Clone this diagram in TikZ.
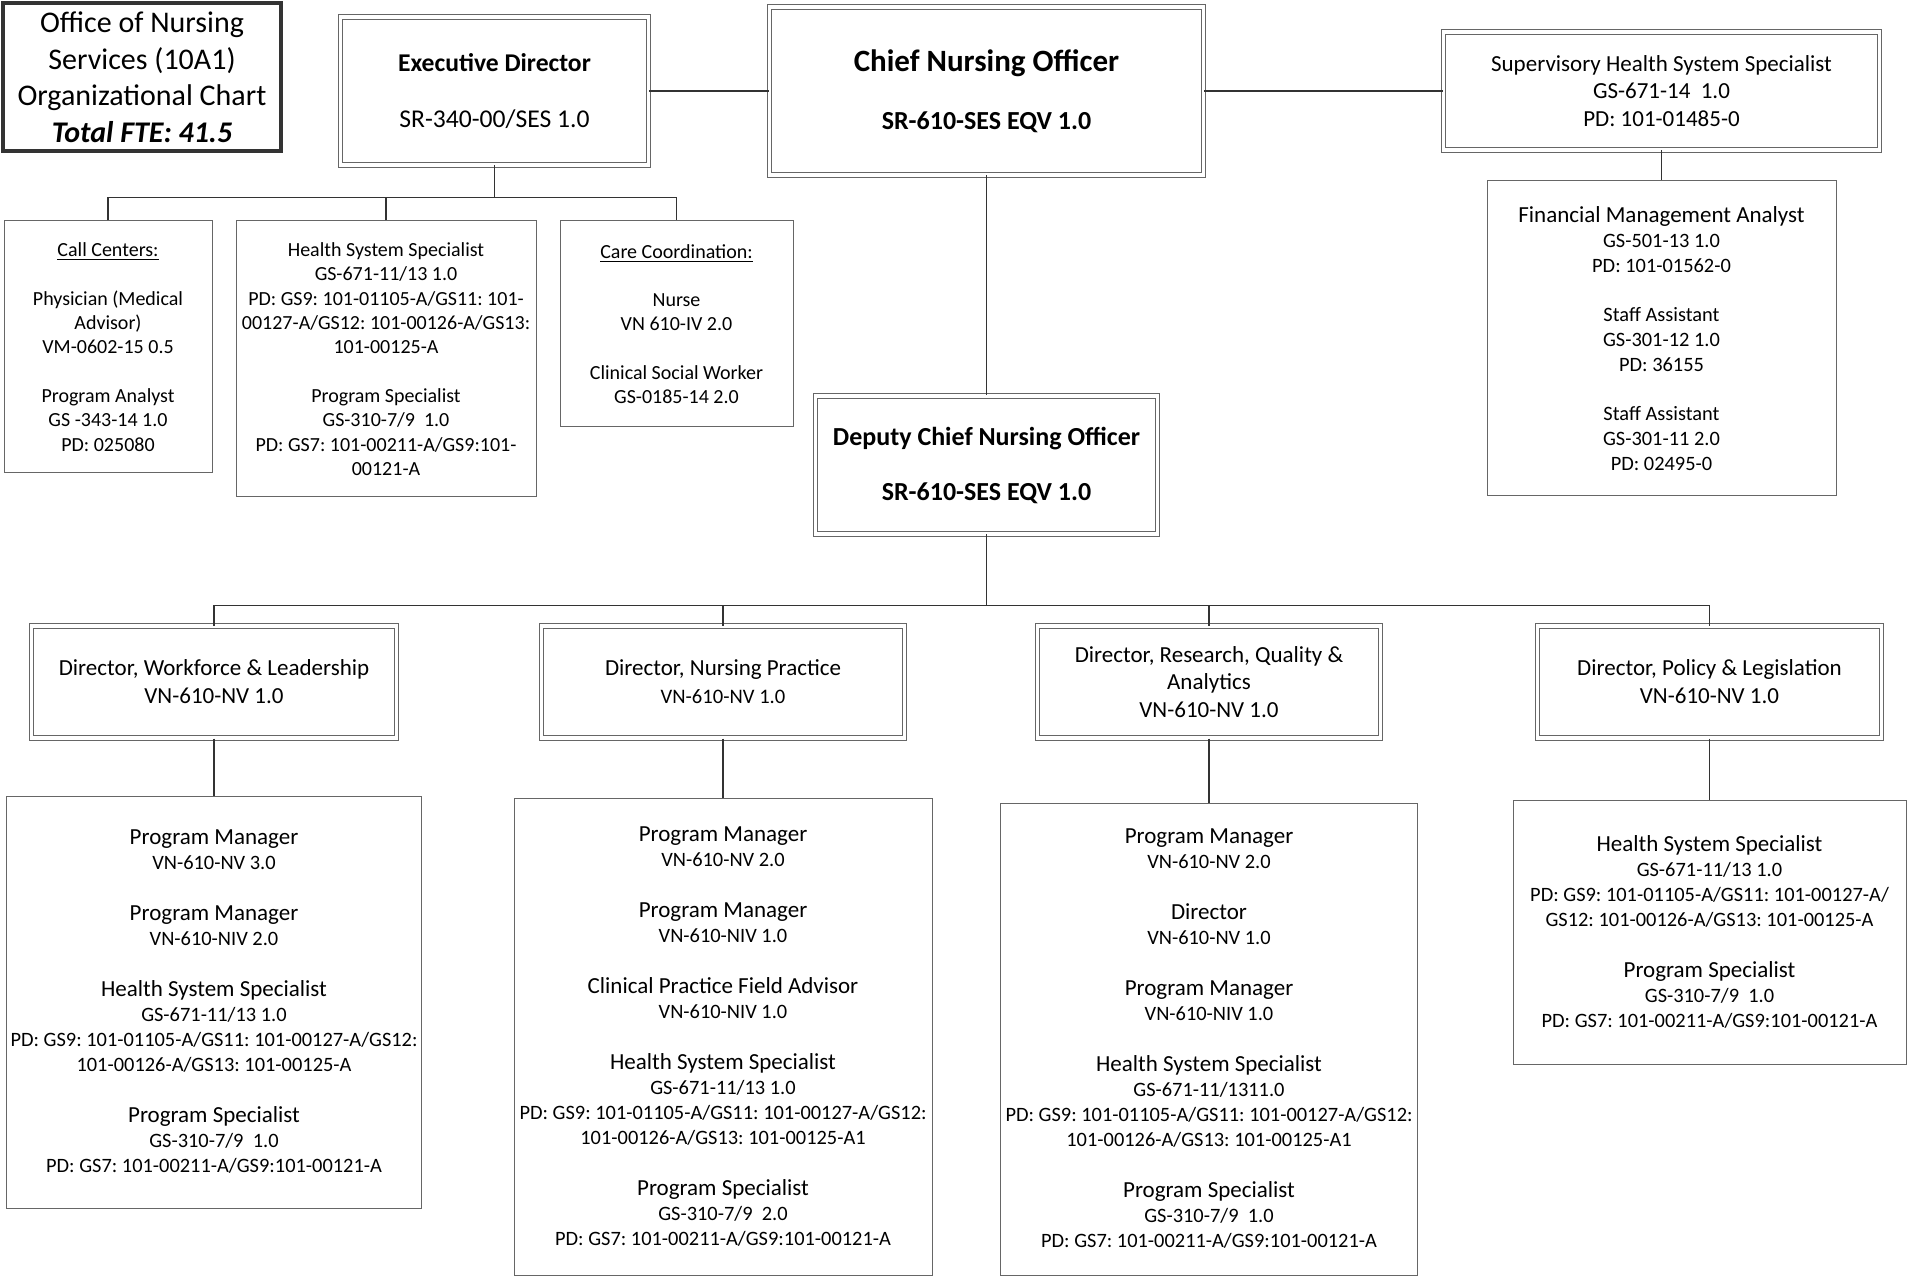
\documentclass[tikz,border=0pt]{standalone}
\usepackage{fontspec}
\setmainfont{Carlito}
\usetikzlibrary{positioning}
\frenchspacing

\newcommand{\roletitle}[1]{{\fontsize{11.5}{12.5}\selectfont #1}}

\begin{document}
\begin{tikzpicture}[
    box/.style={draw=black!60, line width=0.5pt, align=center, inner sep=1pt, font=\fontsize{10.2}{12.5}\selectfont},
    dbox/.style={box, double, double distance=1.8pt},
    small/.style={font=\fontsize{10}{12.2}\selectfont},
    link/.style={draw=black!80, line width=0.6pt}
]
\useasboundingbox (0,0) rectangle (953.5pt,-639pt);

% top row
\node[box, draw=black!80, line width=1.6pt, minimum width=139pt, minimum height=74pt, font=\fontsize{15}{18.25}\selectfont] (title) at (71pt,-38.5pt) {Office of Nursing\\Services (10A1)\\Organizational Chart\\\textbf{\textit{Total FTE: 41.5}}};
\node[dbox, minimum width=154pt, minimum height=74pt, font=\fontsize{12.8}{14}\selectfont] (ed) at (247.25pt,-45.5pt) {\textbf{Executive Director}\\[14pt]SR-340-00/SES 1.0};
\node[dbox, right=60pt of ed, minimum width=217pt, minimum height=84pt, font=\bfseries\fontsize{13}{14}\selectfont] (cno) {{\fontsize{15.5}{16}\selectfont Chief Nursing Officer}\\[15pt]SR-610-SES EQV 1.0};
\node[dbox, right=119.5pt of cno, minimum width=218pt, minimum height=59pt, font=\fontsize{11.5}{13.7}\selectfont] (sup) {Supervisory Health System Specialist\\GS-671-14~~1.0\\PD: 101-01485-0};
\node[box, below=15pt of sup, minimum width=174.5pt, minimum height=157.5pt] (fma) {\roletitle{Financial Management Analyst}\\GS-501-13 1.0\\PD: 101-01562-0\\[12pt]Staff Assistant\\GS-301-12 1.0\\PD: 36155\\[12pt]Staff Assistant\\GS-301-11 2.0\\PD: 02495-0};

% executive director staff
\node[box, small, minimum width=104pt, minimum height=126pt] (calls) at (54pt,-173.5pt) {\underline{Call Centers:}\\[12pt]Physician (Medical\\Advisor)\\VM-0602-15 0.5\\[12pt]Program Analyst\\GS -343-14 1.0\\PD: 025080};
\node[box, small, right=11.5pt of calls.north east, anchor=north west, minimum width=150pt, minimum height=138pt] (hsse) {Health System Specialist\\GS-671-11/13 1.0\\PD: GS9: 101-01105-A/GS11: 101-\\00127-A/GS12: 101-00126-A/GS13:\\101-00125-A\\[12pt]Program Specialist\\GS-310-7/9~~1.0\\PD: GS7: 101-00211-A/GS9:101-\\00121-A};
\node[box, small, right=11.5pt of hsse.north east, anchor=north west, minimum width=116.5pt, minimum height=103pt] (care) {\underline{Care Coordination:}\\[12pt]Nurse\\VN 610-IV 2.0\\[12pt]Clinical Social Worker\\GS-0185-14 2.0};

% deputy and directors
\node[dbox, below=110pt of cno, minimum width=171pt, minimum height=69pt, font=\bfseries\fontsize{13}{14}\selectfont] (dep) {Deputy Chief Nursing Officer\\[13.5pt]SR-610-SES EQV 1.0};
\node[dbox, minimum width=182.5pt, minimum height=56pt, font=\fontsize{11.5}{14}\selectfont] (dwl) at (107pt,-341pt) {Director, Workforce \& Leadership\\VN-610-NV 1.0};
\node[dbox, right=72pt of dwl, minimum width=181.5pt, minimum height=56pt, font=\fontsize{11.5}{14}\selectfont] (dnp) {Director, Nursing Practice\\{\fontsize{10.3}{14}\selectfont VN-610-NV 1.0}};
\node[dbox, right=66pt of dnp, minimum width=171.5pt, minimum height=56pt, font=\fontsize{11.5}{13.7}\selectfont] (drq) {Director, Research, Quality \&\\Analytics\\VN-610-NV 1.0};
\node[dbox, right=78pt of drq, minimum width=172pt, minimum height=56pt, font=\fontsize{11.5}{14}\selectfont] (dpl) {Director, Policy \& Legislation\\VN-610-NV 1.0};

% staff under directors
\node[box, below=28.5pt of dwl, minimum width=207.5pt, minimum height=206pt] (swl) {\roletitle{Program Manager}\\VN-610-NV 3.0\\[13pt]\roletitle{Program Manager}\\VN-610-NIV 2.0\\[13pt]\roletitle{Health System Specialist}\\GS-671-11/13 1.0\\PD: GS9: 101-01105-A/GS11: 101-00127-A/GS12:\\101-00126-A/GS13: 101-00125-A\\[13pt]\roletitle{Program Specialist}\\GS-310-7/9~~1.0\\PD: GS7: 101-00211-A/GS9:101-00121-A};
\node[box, below=29.5pt of dnp, minimum width=209pt, minimum height=238.5pt] (snp) {\roletitle{Program Manager}\\VN-610-NV 2.0\\[13pt]\roletitle{Program Manager}\\VN-610-NIV 1.0\\[13pt]\roletitle{Clinical Practice Field Advisor}\\VN-610-NIV 1.0\\[13pt]\roletitle{Health System Specialist}\\GS-671-11/13 1.0\\PD: GS9: 101-01105-A/GS11: 101-00127-A/GS12:\\101-00126-A/GS13: 101-00125-A1\\[13pt]\roletitle{Program Specialist}\\GS-310-7/9~~2.0\\PD: GS7: 101-00211-A/GS9:101-00121-A};
\node[box, below=32pt of drq, minimum width=208.5pt, minimum height=236pt] (srq) {\roletitle{Program Manager}\\VN-610-NV 2.0\\[13pt]\roletitle{Director}\\VN-610-NV 1.0\\[13pt]\roletitle{Program Manager}\\VN-610-NIV 1.0\\[13pt]\roletitle{Health System Specialist}\\GS-671-11/1311.0\\PD: GS9: 101-01105-A/GS11: 101-00127-A/GS12:\\101-00126-A/GS13: 101-00125-A1\\[13pt]\roletitle{Program Specialist}\\GS-310-7/9~~1.0\\PD: GS7: 101-00211-A/GS9:101-00121-A};
\node[box, below=30.5pt of dpl, minimum width=196.5pt, minimum height=132pt] (spl) {\roletitle{Health System Specialist}\\GS-671-11/13 1.0\\PD: GS9: 101-01105-A/GS11: 101-00127-A/\\GS12: 101-00126-A/GS13: 101-00125-A\\[13pt]\roletitle{Program Specialist}\\GS-310-7/9~~1.0\\PD: GS7: 101-00211-A/GS9:101-00121-A};

% connectors
\coordinate (edjoin) at ([yshift=-16pt]ed.south);
\coordinate (depjoin) at ([yshift=-35.5pt]dep.south);
\draw[link] (ed) -- (cno);
\draw[link] (cno) -- (cno -| sup.west);
\draw[link] (sup.south) -- (sup.south |- fma.north);
\draw[link] (cno.south) -- (cno.south |- dep.north);
\draw[link] (ed) -- (edjoin);
\draw[link] (calls.north) |- (edjoin) -| (care.north);
\draw[link] (hsse.north) -- (hsse.north |- edjoin);
\draw[link] (dep) -- (depjoin);
\draw[link] (dwl.north) |- (depjoin) -| (dpl.north);
\draw[link] (dnp.north) -- (dnp.north |- depjoin);
\draw[link] (drq.north) -- (drq.north |- depjoin);
\draw[link] (dwl) -- (swl);
\draw[link] (dnp) -- (snp);
\draw[link] (drq) -- (srq);
\draw[link] (dpl) -- (spl);
\end{tikzpicture}
\end{document}
